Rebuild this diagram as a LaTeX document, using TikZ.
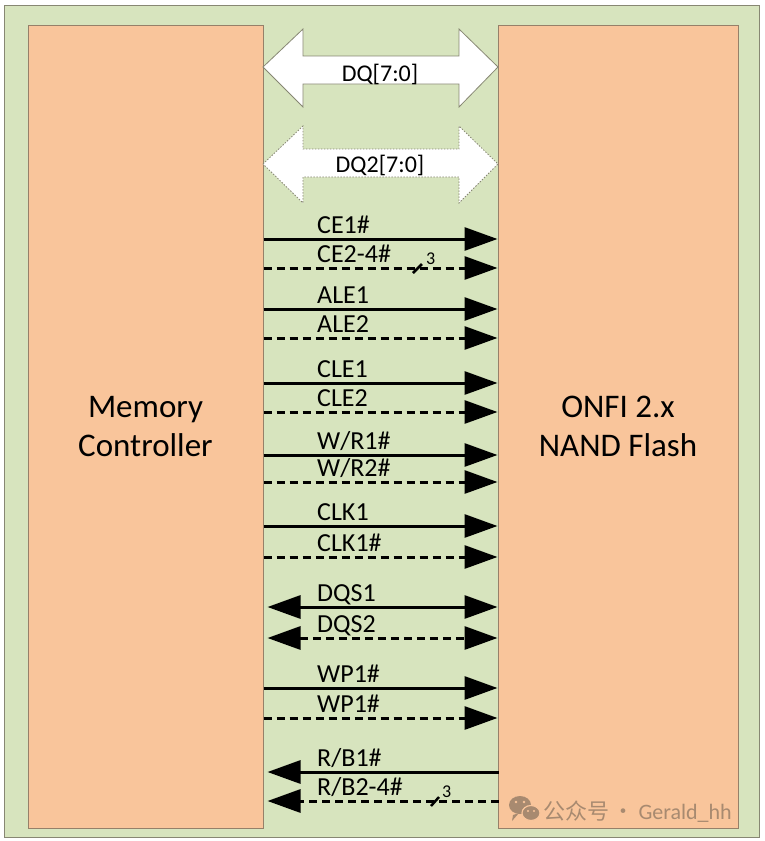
\documentclass[tikz,border=0pt]{standalone}
\usepackage{fontspec}
\setmainfont{Carlito}
\newfontfamily\cjk{Noto Sans CJK SC}
\usetikzlibrary{arrows.meta}
\definecolor{bggreen}{RGB}{215,228,190}
\definecolor{boxorange}{RGB}{249,197,155}
\definecolor{edgegray}{RGB}{135,135,115}
\definecolor{boxedge}{RGB}{150,128,105}
\definecolor{wmark}{RGB}{168,138,112}
\tikzset{
  box/.style={draw=boxedge, line width=1pt, fill=boxorange, minimum width=235pt, minimum height=803pt, align=center, font=\fontsize{33}{39}\selectfont, inner sep=0pt},
  sigsolid/.style={line width=3pt, -{Triangle[length=33pt,width=23pt]}},
  sigdash/.style={sigsolid, dash pattern=on 8pt off 5pt},
  bisolid/.style={line width=3pt, {Triangle[length=33pt,width=23pt]}-{Triangle[length=33pt,width=23pt]}},
  bidash/.style={bisolid, dash pattern=on 8pt off 5pt},
  lbl/.style={anchor=base west, inner sep=0pt, font=\fontsize{26}{26}\selectfont},
  buslbl/.style={anchor=base west, inner sep=0pt, font=\fontsize{18}{18}\selectfont},
  busmark/.style={line width=2.5pt},
  bigarrow/.style={fill=white, draw=edgegray, line width=0.8pt},
  bigarrowdot/.style={fill=white, draw=edgegray, line width=0.8pt, dash pattern=on 1.5pt off 1.5pt},
  buslabel/.style={font=\fontsize{24}{24}\selectfont, inner sep=0pt, anchor=base}
}
\begin{document}
\begin{tikzpicture}[x=1pt,y=-1pt]
\useasboundingbox (0,0) rectangle (764,841);
\fill[white] (0,0) rectangle (764,841);
\draw[fill=bggreen, draw=edgegray, line width=1pt] (4,5) rectangle (759,837);

\node[box] (mc) at (145.5,426.5) {Memory\\Controller};
\node[box, minimum width=240pt] (nf) at (618,426.5) {ONFI 2.x\\NAND Flash};

% DQ big arrows
\draw[bigarrow] (263,67) -- (303,29) -- (303,56) -- (459,56) -- (459,29) -- (498,67)
  -- (459,107) -- (459,84) -- (303,84) -- (303,107) -- cycle;
\node[buslabel] (dq) at (380,81) {DQ[7:0]};
\draw[bigarrowdot] (263,164) -- (303,126) -- (303,149) -- (459,149) -- (459,126) -- (498,164)
  -- (459,203) -- (459,177) -- (303,177) -- (303,203) -- cycle;
\node[buslabel] (dq2) at (380,172) {DQ2[7:0]};

% signals
\draw[sigsolid] (mc.east |- 0,239) -- (nf.west |- 0,239);
\node[lbl] (ce1) at (317,233) {CE1\#};
\draw[sigdash] (mc.east |- 0,268) -- (nf.west |- 0,268);
\node[lbl] (ce2) at (317,262) {CE2-4\#};
\coordinate (ceA) at (413,273);
\coordinate (ceB) at (422,264);
\draw[busmark] (ceA) -- (ceB);
\node[buslbl] (ce3) at (426,264) {3};

\draw[sigsolid] (mc.east |- 0,309) -- (nf.west |- 0,309);
\node[lbl] (ale1) at (317,303) {ALE1};
\draw[sigdash] (mc.east |- 0,338) -- (nf.west |- 0,338);
\node[lbl] (ale2) at (317,332) {ALE2};

\draw[sigsolid] (mc.east |- 0,383) -- (nf.west |- 0,383);
\node[lbl] (cle1) at (317,377) {CLE1};
\draw[sigdash] (mc.east |- 0,412) -- (nf.west |- 0,412);
\node[lbl] (cle2) at (317,406) {CLE2};

\draw[sigsolid] (mc.east |- 0,455) -- (nf.west |- 0,455);
\node[lbl] (wr1) at (317,449) {W/R1\#};
\draw[sigdash] (mc.east |- 0,482) -- (nf.west |- 0,482);
\node[lbl] (wr2) at (317,476) {W/R2\#};

\draw[sigsolid] (mc.east |- 0,526) -- (nf.west |- 0,526);
\node[lbl] (clk1) at (317,520) {CLK1};
\draw[sigdash] (mc.east |- 0,557) -- (nf.west |- 0,557);
\node[lbl] (clk2) at (317,551) {CLK1\#};

\draw[bisolid] ([xshift=4pt]mc.east |- 0,607) -- (nf.west |- 0,607);
\node[lbl] (dqs1) at (317,601) {DQS1};
\draw[bidash] ([xshift=4pt]mc.east |- 0,638) -- (nf.west |- 0,638);
\node[lbl] (dqs2) at (317,632) {DQS2};

\draw[sigsolid] (mc.east |- 0,688) -- (nf.west |- 0,688);
\node[lbl] (wp1) at (317,682) {WP1\#};
\draw[sigdash] (mc.east |- 0,718) -- (nf.west |- 0,718);
\node[lbl] (wp2) at (317,712) {WP1\#};

\draw[sigsolid] ([xshift=1pt]nf.west |- 0,772) -- ([xshift=4pt]mc.east |- 0,772);
\node[lbl] (rb1) at (317,766) {R/B1\#};
\draw[sigdash] ([xshift=1pt]nf.west |- 0,801) -- ([xshift=4pt]mc.east |- 0,801);
\node[lbl] (rb2) at (317,795) {R/B2-4\#};
\coordinate (rbA) at (431,806);
\coordinate (rbB) at (439,797);
\draw[busmark] (rbA) -- (rbB);
\node[buslbl] (rb3) at (442,797) {3};

% watermark
\fill[wmark] (520,805) ellipse (11pt and 9pt);
\fill[wmark] (513,815) -- (512,821) -- (519,813) -- cycle;
\draw[boxorange, line width=1.2pt, fill=wmark] (531,813) ellipse (9pt and 7.5pt);
\fill[boxorange] (516,802) circle (1.3pt) (524,802) circle (1.3pt);
\fill[boxorange] (528,811) circle (1.1pt) (534,811) circle (1.1pt);
\node[anchor=base west, inner sep=0pt, text=wmark, font=\fontsize{22}{22}\selectfont] (wm) at (543,819) {{\cjk 公众号\,·\,}Gerald\_hh};
\end{tikzpicture}
\end{document}
